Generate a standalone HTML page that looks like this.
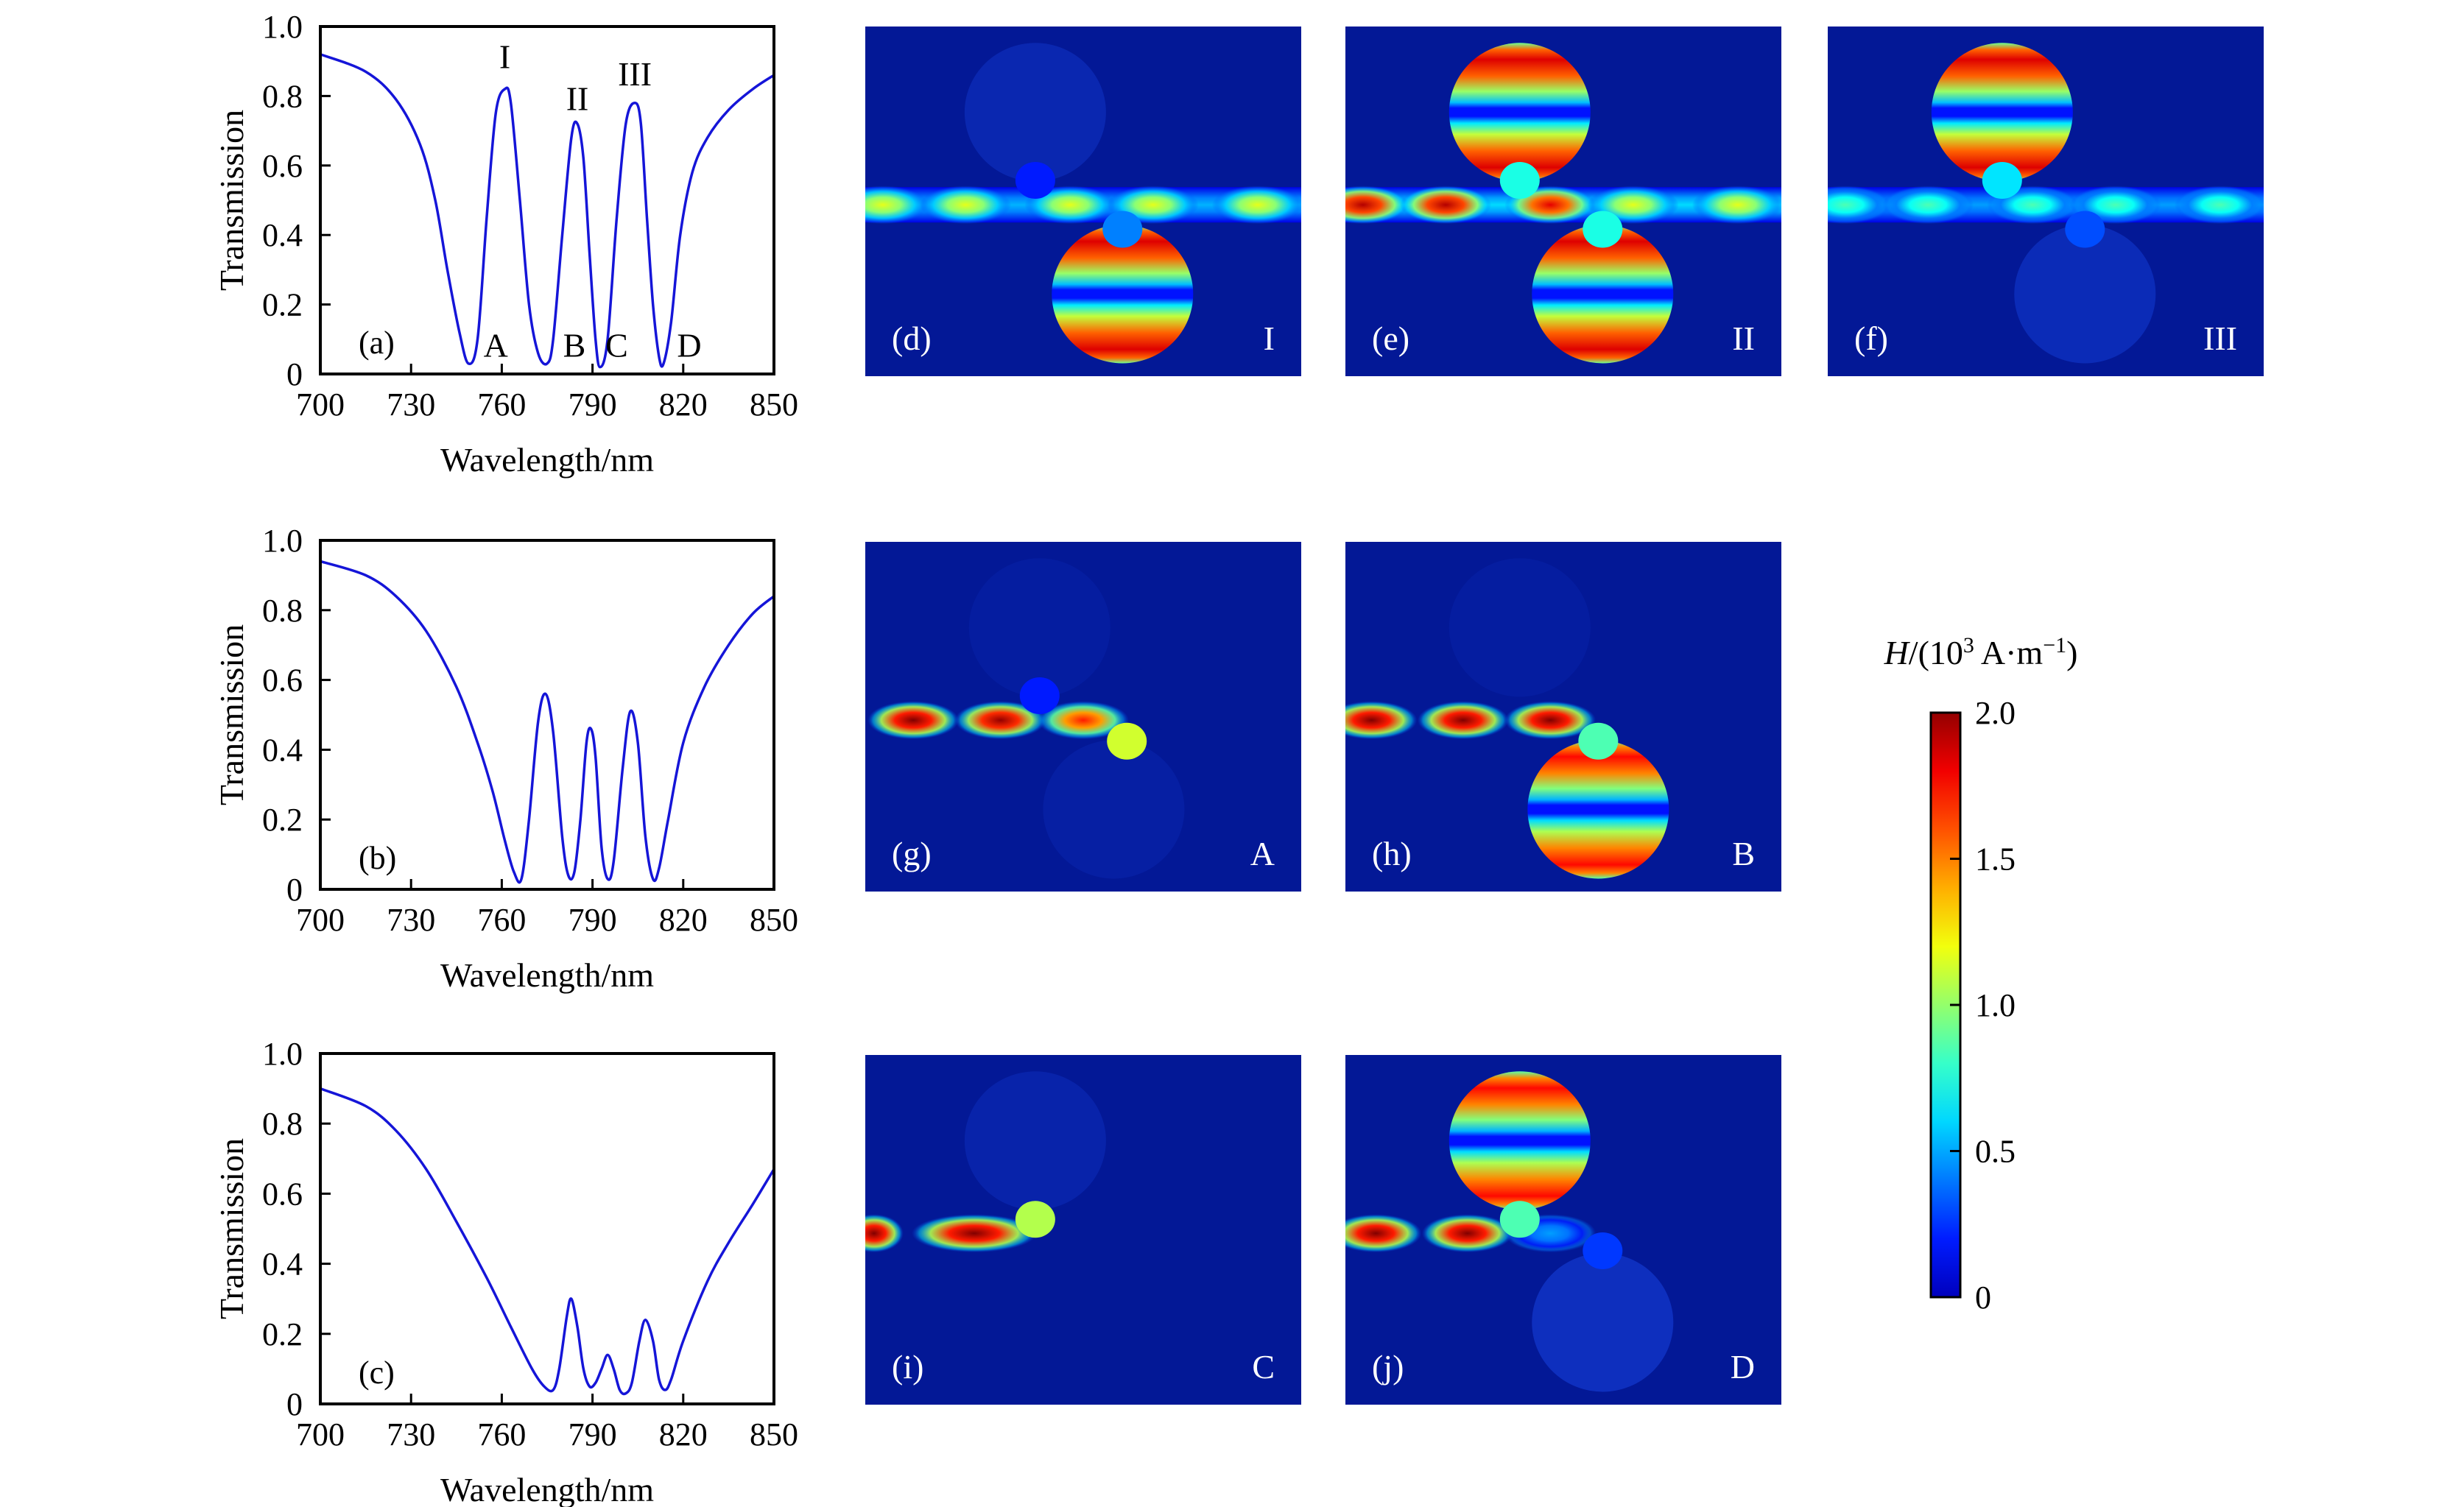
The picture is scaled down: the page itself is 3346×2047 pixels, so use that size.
<!DOCTYPE html>
<html><head><meta charset="utf-8"><style>
html,body{margin:0;padding:0;background:#fff;}
svg{display:block;}
text{font-family:"Liberation Serif",serif;}
</style></head><body>
<svg id="fig" width="3346" height="2047" viewBox="0 0 3346 2047" xmlns="http://www.w3.org/2000/svg">
<defs id="defs"></defs>
</svg>
<script>
// ---- spectra data ----
const wlA=[700,715,725,733,738,742,746,749,752,755,758,761,763,766,769,772,775,777,780,783,785,787,789,791,792.5,795,798,801,804,806,808,810,812,813.5,816,819,823,828,835,843,850];
const tA=[.92,.87,.79,.66,.5,.3,.12,.03,.1,.45,.75,.82,.78,.5,.2,.06,.03,.1,.4,.68,.72,.62,.35,.1,.02,.1,.45,.72,.78,.72,.45,.2,.05,.03,.15,.4,.58,.68,.76,.82,.86];
const wlB=[700,715,725,735,745,752,757,761,764,766.5,769,772,774.5,777,780,782,784,786,788,789.5,791,793,795,797,800,802.5,805,807.5,810,812,815,820,827,835,843,850];
const tB=[.94,.9,.84,.74,.58,.42,.28,.14,.05,.03,.2,.48,.56,.45,.15,.04,.05,.2,.42,.46,.38,.12,.03,.08,.35,.51,.42,.15,.03,.06,.2,.42,.58,.7,.79,.84];
const wlC=[700,715,725,735,745,755,763,770,774,777,779,781.5,783,785,787,789,791,793,795,797,799,801,803,805.5,807.5,810,812,814,816,820,828,835,843,850];
const tC=[.9,.85,.78,.67,.52,.36,.22,.1,.05,.04,.1,.25,.3,.22,.1,.05,.06,.1,.14,.1,.04,.03,.06,.18,.24,.18,.07,.04,.07,.18,.35,.46,.57,.67];
const xTicks=[700,730,760,790,820,850];
const yTicks=[0,0.2,0.4,0.6,0.8,1.0];
const yTickLabels=["0","0.2","0.4","0.6","0.8","1.0"];
const cbTicks=[0,0.5,1.0,1.5,2.0];
const cbTickLabels=["0","0.5","1.0","1.5","2.0"];

const NS="http://www.w3.org/2000/svg";
const svg=document.getElementById('fig');
const defs=document.getElementById('defs');
function mk(tag,attrs,parent){const e=document.createElementNS(NS,tag);for(const k in attrs)e.setAttribute(k,attrs[k]);(parent||svg).appendChild(e);return e;}

function jet(v){v=Math.max(0,Math.min(1,v));
 const r=Math.max(0,Math.min(1,1.5-Math.abs(4*v-3)));
 const g=Math.max(0,Math.min(1,1.5-Math.abs(4*v-2)));
 const b=Math.max(0,Math.min(1,1.5-Math.abs(4*v-1)));
 return `rgb(${Math.round(r*255)},${Math.round(g*255)},${Math.round(b*255)})`;}
const BG='rgb(3,24,150)';

function smoothPath(pts){
 let d='M'+pts[0][0].toFixed(1)+' '+pts[0][1].toFixed(1);
 for(let i=0;i<pts.length-1;i++){
  const p0=pts[Math.max(0,i-1)],p1=pts[i],p2=pts[i+1],p3=pts[Math.min(pts.length-1,i+2)];
  const c1=[p1[0]+(p2[0]-p0[0])/6,p1[1]+(p2[1]-p0[1])/6];
  const c2=[p2[0]-(p3[0]-p1[0])/6,p2[1]-(p3[1]-p1[1])/6];
  d+=`C${c1[0].toFixed(1)} ${c1[1].toFixed(1)} ${c2[0].toFixed(1)} ${c2[1].toFixed(1)} ${p2[0].toFixed(1)} ${p2[1].toFixed(1)}`;
 }
 return d;}

// ---- line plots ----
function plot(x0,y0,x1,y1,wl,tr,tag,name,marks){
 const g=mk('g',{});
 
 
 const X=w=>x0+(w-700)/150*(x1-x0);
 const Y=t=>y1-t*(y1-y0);
 const pts=wl.map((w,i)=>[X(w),Y(tr[i])]);
 const p=mk('path',{d:smoothPath(pts),fill:'none',stroke:'#1515d8','stroke-width':3.5},g);
 
 
 const fr=mk('rect',{x:x0,y:y0,width:x1-x0,height:y1-y0,fill:'none',stroke:'#000','stroke-width':4},g);
 
 
 xTicks.forEach(v=>{
  if(v>700&&v<850) mk('line',{x1:X(v),x2:X(v),y1:y1,y2:y1-14,stroke:'#000','stroke-width':3},g);
  const t=mk('text',{x:X(v),y:y1+56,'font-size':44,'text-anchor':'middle'},g);t.textContent=v;
  
  
 });
 yTicks.forEach((v,i)=>{
  if(v>0&&v<1) mk('line',{x1:x0,x2:x0+14,y1:Y(v),y2:Y(v),stroke:'#000','stroke-width':3},g);
  const t=mk('text',{x:x0-24,y:Y(v)+15,'font-size':44,'text-anchor':'end'},g);t.textContent=yTickLabels[i];
  
  
 });
 const xl=mk('text',{x:(x0+x1)/2,y:y1+132,'font-size':46,'text-anchor':'middle'},g);xl.textContent='Wavelength/nm';
 
 
 const yl=mk('text',{x:0,y:0,'font-size':46,'text-anchor':'middle',transform:`translate(330,${(y0+y1)/2}) rotate(-90)`},g);yl.textContent='Transmission';
 
 
 const tl=mk('text',{x:x0+52,y:y1-28,'font-size':44},g);tl.textContent=tag;
 
 
 (marks||[]).forEach(m=>{const t=mk('text',{x:X(m[1]),y:Y(m[2]),'font-size':46,'text-anchor':'middle'},g);t.textContent=m[0];
  
  });
}
plot(435,36,1051,508,wlA,tA,'(a)','plot-a',[['I',761,0.88],['II',785,0.76],['III',804,0.83],['A',758,0.05],['B',784,0.05],['C',798,0.05],['D',822,0.05]]);
plot(435,734,1051,1208,wlB,tB,'(b)','plot-b');
plot(435,1431,1051,1907,wlC,tC,'(c)','plot-c');

// ---- field maps ----
let gid=0;
function diskGrad(v){const id='dg'+(gid++);const lg=mk('linearGradient',{id:id,x1:0,y1:0,x2:0,y2:1},defs);
 const st=[[0,0.45],[0.05,0.8],[0.12,0.95],[0.24,0.8],[0.35,0.5],[0.43,0.25],[0.47,0.05],[0.53,0.05],[0.58,0.3],[0.66,0.55],[0.78,0.8],[0.9,0.95],[0.96,0.8],[1,0.45]];
 st.forEach(s=>mk('stop',{offset:s[0],'stop-color':jet(0.1+s[1]*v*0.85)},lg));return id;}
function blobGrad(v){const id='bg'+(gid++);const rg=mk('radialGradient',{id:id,cx:.5,cy:.5,r:.5},defs);
 [[0,v,1],[0.4,v*0.85,1],[0.7,v*0.55,0.9],[0.88,Math.max(0.25,v*0.35),0.5],[1,0.2,0]].forEach(s=>mk('stop',{offset:s[0],'stop-color':jet(Math.max(0.12,s[1])),'stop-opacity':s[2]},rg));return id;}
function bandGrad(v){const id='wb'+(gid++);const lg=mk('linearGradient',{id:id,x1:0,y1:0,x2:0,y2:1},defs);
 [[0,0.1],[0.3,0.1+v*0.3],[0.5,0.1+v*0.4],[0.7,0.1+v*0.3],[1,0.1]].forEach(s=>mk('stop',{offset:s[0],'stop-color':jet(s[1])},lg));return id;}
function panel(px,py,tag,lab,name,o){
 const W=592,H=475;
 const cid='clip'+(gid++);
 const cp=mk('clipPath',{id:cid},defs);mk('rect',{x:px,y:py,width:W,height:H},cp);
 const g=mk('g',{'clip-path':'url(#'+cid+')'});
 
 
 const bg=mk('rect',{x:px,y:py,width:W,height:H,fill:BG},g);
 
 
 const R=96;
 [['upper',o.ux,0.245,o.u],['lower',o.lx,0.765,o.l]].forEach(d=>{
  if(d[3]<=0)return;
  const cx=px+d[1]*W,cy=py+d[2]*H;
  const bright=d[3]>0.3;
  const c=mk('ellipse',{cx:cx,cy:cy,rx:R,ry:R*0.98,fill:bright?'url(#'+diskGrad(d[3])+')':'rgb(30,80,245)','fill-opacity':bright?1:Math.min(0.6,d[3]*3.5)},g);
  
  
 });
 const wy=py+0.51*H;
 if(o.band){const b=mk('rect',{x:px,y:wy-24,width:W*o.band[0],height:48,fill:'url(#'+bandGrad(o.band[1])+')'},g);
  
  }
 (o.wg||[]).forEach(b=>{const e=mk('ellipse',{cx:px+b[0]*W,cy:wy,rx:b[2]||62,ry:26,fill:'url(#'+blobGrad(b[1])+')'},g);
  
  });
 (o.cp||[]).forEach(c=>{const e=mk('ellipse',{cx:px+c[0]*W,cy:py+c[1]*H,rx:27,ry:25,fill:jet(c[2])},g);
  
  });
 const t1=mk('text',{x:px+36,y:py+H-36,'font-size':46,fill:'#fff'},g);t1.textContent=tag;
 
 
 const t2=mk('text',{x:px+W-36,y:py+H-36,'font-size':46,fill:'#fff','text-anchor':'end'},g);t2.textContent=lab;
 
 
}
const full=v=>[[0.04,v],[0.23,v],[0.47,v],[0.66,v],[0.9,v]];
panel(1175,36,'(d)','I','field-map-d',{ux:0.39,u:0.08,lx:0.59,l:1,band:[1,0.5],wg:full(0.6),cp:[[0.59,0.58,0.25],[0.39,0.44,0.15]]});
panel(1827,36,'(e)','II','field-map-e',{ux:0.4,u:1,lx:0.59,l:1,band:[1,0.6],wg:[[0.04,0.95],[0.23,0.95],[0.47,0.9],[0.66,0.6],[0.9,0.6]],cp:[[0.4,0.44,0.4],[0.59,0.58,0.4]]});
panel(2482,36,'(f)','III','field-map-f',{ux:0.4,u:1,lx:0.59,l:0.1,band:[1,0.45],wg:full(0.45),cp:[[0.4,0.44,0.35],[0.59,0.58,0.2]]});
panel(1175,736,'(g)','A','field-map-g',{ux:0.4,u:0.03,lx:0.57,l:0.04,wg:[[0.11,1],[0.31,0.98],[0.5,0.85]],cp:[[0.6,0.57,0.58],[0.4,0.44,0.15]]});
panel(1827,736,'(h)','B','field-map-h',{ux:0.4,u:0.03,lx:0.58,l:0.95,wg:[[0.06,1],[0.27,1],[0.47,1]],cp:[[0.58,0.57,0.45]]});
panel(1175,1433,'(i)','C','field-map-i',{ux:0.39,u:0.06,lx:0.59,l:0.0,wg:[[0.02,1,40],[0.25,1,85]],cp:[[0.39,0.47,0.55]]});
panel(1827,1433,'(j)','D','field-map-j',{ux:0.4,u:0.95,lx:0.59,l:0.12,wg:[[0.07,1],[0.28,1],[0.47,0.28]],cp:[[0.4,0.47,0.45],[0.59,0.56,0.18]]});

// ---- colorbar ----
const cbX=2622,cbY0=968,cbY1=1762,cbW=40;
const cg=mk('linearGradient',{id:'jetg',x1:0,y1:1,x2:0,y2:0},defs);
for(let i=0;i<=10;i++) mk('stop',{offset:i/10,'stop-color':jet(0.06+0.92*i/10)},cg);
const cb=mk('rect',{x:cbX,y:cbY0,width:cbW,height:cbY1-cbY0,fill:'url(#jetg)',stroke:'#000','stroke-width':3});


cbTicks.forEach((v,i)=>{const y=cbY1-v/2*(cbY1-cbY0);
 if(v>0&&v<2) mk('line',{x1:cbX+cbW-14,x2:cbX+cbW,y1:y,y2:y,stroke:'#000','stroke-width':3});
 const t=mk('text',{x:cbX+cbW+20,y:y+15,'font-size':44},svg);t.textContent=cbTickLabels[i];
 
 });
const ct=mk('text',{x:2690,y:902,'font-size':46,'text-anchor':'middle'});
ct.innerHTML='<tspan font-style="italic">H</tspan>/(10<tspan dy="-16" font-size="30">3</tspan><tspan dy="16"> A·m</tspan><tspan dy="-16" font-size="30">−1</tspan><tspan dy="16">)</tspan>';


</script>
</body></html>
